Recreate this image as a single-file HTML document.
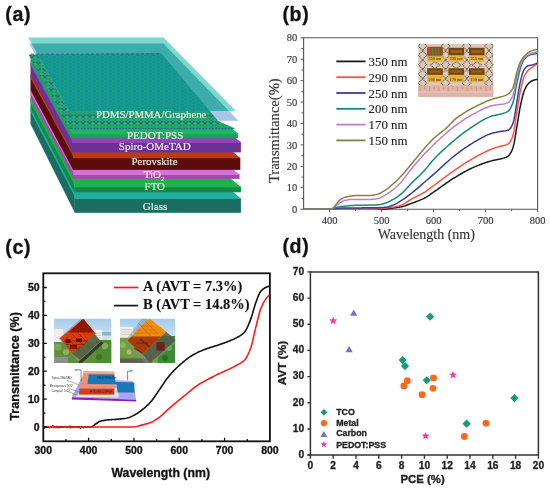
<!DOCTYPE html><html><head><meta charset="utf-8"><style>
html,body{margin:0;padding:0;background:#fff;width:550px;height:490px;overflow:hidden}
svg{display:block;filter:blur(0.3px)}
.ser{font-family:"Liberation Serif", serif}.san{font-family:"Liberation Sans", sans-serif}
</style></head><body>
<svg width="550" height="490" viewBox="0 0 550 490">
<rect width="550" height="490" fill="#fff"/>
<text x="5.2" y="20.7" class="san" font-weight="bold" font-size="19.6" letter-spacing="0.7" fill="#111" stroke="#111" stroke-width="0.3">(a)</text>
<text x="282.4" y="20.7" class="san" font-weight="bold" font-size="19.6" letter-spacing="0.7" fill="#111" stroke="#111" stroke-width="0.3">(b)</text>
<text x="5.2" y="254.2" class="san" font-weight="bold" font-size="19.6" letter-spacing="0.7" fill="#111" stroke="#111" stroke-width="0.3">(c)</text>
<text x="282.4" y="252.9" class="san" font-weight="bold" font-size="19.6" letter-spacing="0.7" fill="#111" stroke="#111" stroke-width="0.3">(d)</text>
<defs>
<pattern id="hexE" patternUnits="userSpaceOnUse" width="6.4" height="6.6" x="0" y="0.5"><rect width="6.4" height="6.6" fill="#1fb85a"/><path d="M0,0.8 L1.6,2.5 L4.8,2.5 L6.4,0.8 M1.6,2.5 L0,4.1 M4.8,2.5 L6.4,4.1 M0,4.1 L1.6,5.8 M4.8,5.8 L6.4,4.1 M1.6,5.8 H4.8" fill="none" stroke="#2a8a6a" stroke-width="0.5"/><circle cx="1.6" cy="2.5" r="0.95" fill="#3446c2"/><circle cx="4.8" cy="2.5" r="0.95" fill="#3446c2"/><circle cx="0" cy="4.1" r="0.95" fill="#3446c2"/><circle cx="6.4" cy="4.1" r="0.95" fill="#3446c2"/><circle cx="1.6" cy="5.8" r="0.6" fill="#2c55b0"/><circle cx="4.8" cy="5.8" r="0.6" fill="#2c55b0"/><circle cx="0" cy="0.8" r="0.6" fill="#2c55b0"/><circle cx="6.4" cy="0.8" r="0.6" fill="#2c55b0"/></pattern>
<pattern id="hexC" patternUnits="userSpaceOnUse" width="8" height="3.4" x="0" y="0"><rect width="8" height="3.4" fill="#139d8b"/><path d="M0,0.9 H3.2 M4.5,2.6 H8" stroke="#1a86a6" stroke-width="1.1"/><path d="M3.5,0.9 H4.3 M0,2.6 H1" stroke="#12a878" stroke-width="1.1"/></pattern>
<clipPath id="cpPDMS"><polygon points="28.30,37.60 163.60,37.60 236.00,111.00 69.00,111.00"/></clipPath>
</defs>
<polygon points="30.50,107.50 74.80,191.70 74.80,212.80 30.50,124.00" fill="#1b6d62"/>
<polygon points="30.50,108.10 74.80,192.30 74.80,196.71 30.50,111.52" fill="#22ae9e"/>
<rect x="74.50" y="198.20" width="166.40" height="14.60" fill="#1b6d62"/>
<polygon points="74.50,191.60 232.64,191.60 240.90,198.60 240.90,198.90 74.50,198.90" fill="#22ae9e"/>
<polygon points="30.50,97.70 74.40,178.30 74.40,192.30 30.50,108.10" fill="#118a47"/>
<polygon points="30.50,98.30 74.40,178.90 74.40,184.57 30.50,102.45" fill="#1db24c"/>
<rect x="74.10" y="186.60" width="166.80" height="5.70" fill="#118a47"/>
<polygon points="74.10,178.20 230.48,178.20 240.90,187.00 240.90,187.30 74.10,187.30" fill="#1db24c"/>
<polygon points="30.50,89.50 73.90,169.30 73.90,178.90 30.50,98.30" fill="#a14ca8"/>
<polygon points="30.50,90.10 73.90,169.90 73.90,173.33 30.50,93.23" fill="#d372d2"/>
<rect x="73.60" y="174.40" width="166.00" height="4.50" fill="#a14ca8"/>
<polygon points="73.60,169.20 233.02,169.20 239.60,174.80 239.60,175.10 73.60,175.10" fill="#d372d2"/>
<polygon points="30.50,73.90 73.20,151.80 73.20,169.90 30.50,90.10" fill="#5c0d09"/>
<polygon points="30.50,74.50 73.20,152.40 73.20,156.25 30.50,77.93" fill="#b93c17"/>
<rect x="72.90" y="157.50" width="167.40" height="12.40" fill="#5c0d09"/>
<polygon points="72.90,151.70 233.00,151.70 240.30,157.90 240.30,158.20 72.90,158.20" fill="#b93c17"/>
<polygon points="30.50,62.50 72.20,137.70 72.20,152.40 30.50,74.50" fill="#6b3196"/>
<polygon points="30.50,63.10 72.20,138.30 72.20,141.24 30.50,65.48" fill="#9443bb"/>
<rect x="71.90" y="142.10" width="169.00" height="10.30" fill="#6b3196"/>
<polygon points="71.90,137.60 235.16,137.60 240.90,142.50 240.90,142.80 71.90,142.80" fill="#9443bb"/>
<polygon points="30.50,54.00 71.00,128.40 71.00,138.30 30.50,63.10" fill="#18a458"/>
<polygon points="30.50,54.60 71.00,129.00 71.00,132.15 30.50,57.48" fill="#22b462"/>
<rect x="70.70" y="133.10" width="167.30" height="5.20" fill="#18a458"/>
<polygon points="70.70,128.30 231.90,128.30 238.00,133.50 238.00,133.80 70.70,133.80" fill="#22b462"/>
<polygon points="29.20,43.50 163.40,43.50 238.40,120.80 71.00,120.80" fill="#a9c5e7"/>
<polygon points="28.60,54.50 161.00,53.00 209.50,110.50 218.00,121.00 233.00,127.50 235.50,129.20 69.50,129.20" fill="url(#hexE)"/>
<polygon points="28.30,37.60 163.60,37.60 236.00,111.00 69.00,111.00" fill="#7fd7cf"/>
<g clip-path="url(#cpPDMS)">
<polygon points="29.20,43.50 163.40,43.50 238.40,120.80 71.00,120.80" fill="#3cadab"/>
<polygon points="28.60,54.50 161.00,53.00 209.50,110.50 218.00,121.00 233.00,127.50 235.50,129.20 69.50,129.20" fill="url(#hexC)"/>
</g>
<path d="M31,54.2H161" stroke="#3a5fa8" stroke-width="1.2" stroke-dasharray="3,2" opacity="0.8"/>
<text x="96.0" y="117.8" font-family="Liberation Serif, serif" font-size="10.8" fill="#f3f1e6" stroke="#f3f1e6" stroke-width="0.15">PDMS/PMMA/Graphene</text>
<text x="127.0" y="138.7" font-family="Liberation Serif, serif" font-size="11.0" fill="#f3f1e6" stroke="#f3f1e6" stroke-width="0.15">PEDOT:PSS</text>
<text x="118.8" y="150.3" font-family="Liberation Serif, serif" font-size="11.0" fill="#f3f1e6" stroke="#f3f1e6" stroke-width="0.15">Spiro-OMeTAD</text>
<text x="131.5" y="165.1" font-family="Liberation Serif, serif" font-size="10.9" fill="#f3f1e6" stroke="#f3f1e6" stroke-width="0.15">Perovskite</text>
<text x="144.6" y="190.3" font-family="Liberation Serif, serif" font-size="10.9" fill="#f3f1e6" stroke="#f3f1e6" stroke-width="0.15">FTO</text>
<text x="142.8" y="209.6" font-family="Liberation Serif, serif" font-size="11.0" fill="#f3f1e6" stroke="#f3f1e6" stroke-width="0.15">Glass</text>
<text x="143.8" y="178.0" font-family="Liberation Serif, serif" font-size="10.9" fill="#f3f1e6" stroke="#f3f1e6" stroke-width="0.15">TiO<tspan font-size="6" dy="2.5">2</tspan></text>
<defs><clipPath id="insb"><rect x="418.2" y="43.7" width="75.3" height="53.2"/></clipPath></defs>
<g clip-path="url(#insb)">
<rect x="418.2" y="43.7" width="75.3" height="53.2" fill="#dccbbd"/>
<path d="M422.6,41.4l4.1,4.6l-4.1,4.6l-4.1,-4.6zM422.6,50.7l4.1,4.6l-4.1,4.6l-4.1,-4.6zM422.6,60.0l4.1,4.6l-4.1,4.6l-4.1,-4.6zM422.6,69.3l4.1,4.6l-4.1,4.6l-4.1,-4.6zM422.6,78.6l4.1,4.6l-4.1,4.6l-4.1,-4.6zM445.6,41.4l4.1,4.6l-4.1,4.6l-4.1,-4.6zM445.6,50.7l4.1,4.6l-4.1,4.6l-4.1,-4.6zM445.6,60.0l4.1,4.6l-4.1,4.6l-4.1,-4.6zM445.6,69.3l4.1,4.6l-4.1,4.6l-4.1,-4.6zM445.6,78.6l4.1,4.6l-4.1,4.6l-4.1,-4.6zM466.7,41.4l4.1,4.6l-4.1,4.6l-4.1,-4.6zM466.7,50.7l4.1,4.6l-4.1,4.6l-4.1,-4.6zM466.7,60.0l4.1,4.6l-4.1,4.6l-4.1,-4.6zM466.7,69.3l4.1,4.6l-4.1,4.6l-4.1,-4.6zM466.7,78.6l4.1,4.6l-4.1,4.6l-4.1,-4.6zM489.0,41.4l4.1,4.6l-4.1,4.6l-4.1,-4.6zM489.0,50.7l4.1,4.6l-4.1,4.6l-4.1,-4.6zM489.0,60.0l4.1,4.6l-4.1,4.6l-4.1,-4.6zM489.0,69.3l4.1,4.6l-4.1,4.6l-4.1,-4.6zM489.0,78.6l4.1,4.6l-4.1,4.6l-4.1,-4.6zM434.9,61.4l4.6,3.6l-4.6,3.6l-4.6,-3.6zM456.2,61.4l4.6,3.6l-4.6,3.6l-4.6,-3.6zM476.7,61.4l4.6,3.6l-4.6,3.6l-4.6,-3.6z" fill="none" stroke="#6e5a4a" stroke-width="1.15" stroke-dasharray="1.1,0.7"/>
<rect x="427.2" y="47.8" width="15.5" height="13.9" fill="#e6b23e"/>
<rect x="427.2" y="47.8" width="15.5" height="7.4" fill="#754413"/>
<rect x="429.2" y="49.8" width="11.5" height="3.4" fill="#9a6426" opacity="0.8"/>
<text x="434.9" y="60.1" font-family="Liberation Serif, serif" font-size="4.2" fill="#3a2508" text-anchor="middle">350 nm</text>
<rect x="448.5" y="47.8" width="15.5" height="13.9" fill="#e6b23e"/>
<rect x="448.5" y="47.8" width="15.5" height="7.4" fill="#754413"/>
<rect x="450.5" y="49.8" width="11.5" height="3.4" fill="#9a6426" opacity="0.8"/>
<text x="456.2" y="60.1" font-family="Liberation Serif, serif" font-size="4.2" fill="#3a2508" text-anchor="middle">290 nm</text>
<rect x="469.0" y="47.8" width="15.5" height="13.9" fill="#e6b23e"/>
<rect x="469.0" y="47.8" width="15.5" height="7.4" fill="#754413"/>
<rect x="471.0" y="49.8" width="11.5" height="3.4" fill="#9a6426" opacity="0.8"/>
<text x="476.8" y="60.1" font-family="Liberation Serif, serif" font-size="4.2" fill="#3a2508" text-anchor="middle">250 nm</text>
<rect x="427.2" y="68.3" width="15.5" height="13.9" fill="#e6b23e"/>
<rect x="427.2" y="68.3" width="15.5" height="6.5" fill="#754413"/>
<rect x="429.2" y="70.3" width="11.5" height="2.5" fill="#9a6426" opacity="0.8"/>
<text x="434.9" y="80.6" font-family="Liberation Serif, serif" font-size="4.2" fill="#3a2508" text-anchor="middle">200 nm</text>
<rect x="448.5" y="68.3" width="15.5" height="13.9" fill="#e6b23e"/>
<rect x="448.5" y="68.3" width="15.5" height="6.5" fill="#754413"/>
<rect x="450.5" y="70.3" width="11.5" height="2.5" fill="#9a6426" opacity="0.8"/>
<text x="456.2" y="80.6" font-family="Liberation Serif, serif" font-size="4.2" fill="#3a2508" text-anchor="middle">170 nm</text>
<rect x="469.0" y="68.3" width="15.5" height="13.9" fill="#e6b23e"/>
<rect x="469.0" y="68.3" width="15.5" height="6.5" fill="#754413"/>
<rect x="471.0" y="70.3" width="11.5" height="2.5" fill="#9a6426" opacity="0.8"/>
<text x="476.8" y="80.6" font-family="Liberation Serif, serif" font-size="4.2" fill="#3a2508" text-anchor="middle">150 nm</text>
<rect x="427.6" y="46.8" width="14.6" height="9" fill="#b83a2a"/>
<path d="M429.5,48v7M432.5,48v7M435.5,48v7M438.5,48v7" stroke="#2a9a3a" stroke-width="1.3"/>
<path d="M427.8,55.8h14.4" stroke="#3aa83a" stroke-width="0.8"/>
<rect x="418.2" y="85.5" width="75.3" height="11.4" fill="#dfb3a6"/>
<path d="M420.0,86.5v5.0M424.7,86.5v3.0M429.4,86.5v5.0M434.1,86.5v3.0M438.8,86.5v5.0M443.5,86.5v3.0M448.2,86.5v5.0M452.9,86.5v3.0M457.6,86.5v5.0M462.3,86.5v3.0M467.0,86.5v5.0M471.7,86.5v3.0M476.4,86.5v5.0M481.1,86.5v3.0M485.8,86.5v5.0M490.5,86.5v3.0" stroke="#c49080" stroke-width="0.7"/>
<rect x="418.2" y="91.5" width="75.3" height="1.0" fill="#eccac2"/>
</g>
<path d="M303.6,209.2V37.8H537.6V209.2" fill="none" stroke="#555" stroke-width="1.1"/>
<path d="M303.6,209.2H537.6" fill="none" stroke="#555" stroke-width="1.1"/>
<path d="M303.60,209.20L304.78,209.20L305.95,209.20L307.13,209.20L308.30,209.20L309.48,209.20L310.66,209.20L311.83,209.20L313.01,209.20L314.18,209.20L315.36,209.20L316.53,209.20L317.71,209.20L318.89,209.20L320.06,209.20L321.24,209.20L322.41,209.20L323.59,209.20L324.77,209.20L325.94,209.20L327.12,209.20L328.29,209.20L329.47,209.20L330.65,209.20L331.82,209.20L333.00,209.20L334.17,209.20L335.35,209.20L336.52,209.20L337.70,209.20L338.88,209.20L340.05,209.20L341.23,209.20L342.40,209.20L343.58,209.20L344.76,209.20L345.93,209.20L347.11,209.20L348.28,209.20L349.46,209.20L350.64,209.20L351.81,209.20L352.99,209.20L354.16,209.20L355.34,209.20L356.51,209.20L357.69,209.20L358.87,209.20L360.04,209.20L361.22,209.20L362.39,209.20L363.57,209.20L364.75,209.20L365.92,209.20L367.10,209.20L368.27,209.20L369.45,209.20L370.63,209.20L371.80,209.20L372.98,209.20L374.15,209.20L375.33,209.20L376.50,209.20L377.68,209.20L378.86,209.20L380.03,209.20L381.21,209.20L382.38,209.19L383.56,209.14L384.74,209.06L385.91,208.95L387.09,208.81L388.26,208.66L389.44,208.49L390.62,208.32L391.79,208.16L392.97,207.99L394.14,207.84L395.32,207.69L396.49,207.53L397.67,207.37L398.85,207.19L400.02,206.99L401.20,206.77L402.37,206.52L403.55,206.21L404.73,205.85L405.90,205.44L407.08,205.01L408.25,204.57L409.43,204.13L410.61,203.70L411.78,203.27L412.96,202.85L414.13,202.43L415.31,202.00L416.48,201.56L417.66,201.11L418.84,200.65L420.01,200.17L421.19,199.66L422.36,199.14L423.54,198.58L424.72,198.00L425.89,197.37L427.07,196.65L428.24,195.87L429.42,195.05L430.59,194.20L431.77,193.35L432.95,192.51L434.12,191.70L435.30,190.90L436.47,190.08L437.65,189.26L438.83,188.43L440.00,187.60L441.18,186.76L442.35,185.93L443.53,185.10L444.71,184.27L445.88,183.44L447.06,182.63L448.23,181.82L449.41,181.03L450.58,180.24L451.76,179.47L452.94,178.72L454.11,177.98L455.29,177.27L456.46,176.56L457.64,175.85L458.82,175.15L459.99,174.45L461.17,173.76L462.34,173.08L463.52,172.41L464.70,171.76L465.87,171.11L467.05,170.48L468.22,169.87L469.40,169.28L470.57,168.70L471.75,168.15L472.93,167.62L474.10,167.11L475.28,166.61L476.45,166.12L477.63,165.63L478.81,165.16L479.98,164.70L481.16,164.25L482.33,163.81L483.51,163.38L484.69,162.97L485.86,162.57L487.04,162.19L488.21,161.82L489.39,161.46L490.56,161.13L491.74,160.81L492.92,160.51L494.09,160.25L495.27,160.02L496.44,159.79L497.62,159.56L498.80,159.31L499.97,159.04L501.15,158.73L502.32,158.42L503.50,158.11L504.68,157.76L505.85,157.33L507.03,156.80L508.20,156.12L509.38,154.95L510.55,153.19L511.73,150.87L512.91,148.04L514.08,143.41L515.26,136.57L516.43,129.33L517.61,122.28L518.79,114.81L519.96,107.98L521.14,102.33L522.31,97.21L523.49,92.97L524.67,89.84L525.84,87.25L527.02,85.21L528.19,83.77L529.37,82.62L530.54,81.67L531.72,80.95L532.90,80.46L534.07,80.05L535.25,79.69L536.42,79.45L537.60,79.36" fill="none" stroke="#1a1a1a" stroke-width="1.5" stroke-linejoin="round"/>
<path d="M303.60,209.20L304.78,209.20L305.95,209.20L307.13,209.20L308.30,209.20L309.48,209.20L310.66,209.20L311.83,209.20L313.01,209.20L314.18,209.20L315.36,209.20L316.53,209.20L317.71,209.20L318.89,209.20L320.06,209.20L321.24,209.20L322.41,209.20L323.59,209.20L324.77,209.20L325.94,209.20L327.12,209.20L328.29,209.20L329.47,209.20L330.65,209.20L331.82,209.20L333.00,209.20L334.17,209.20L335.35,209.20L336.52,209.20L337.70,209.20L338.88,209.20L340.05,209.20L341.23,209.20L342.40,209.20L343.58,209.20L344.76,209.20L345.93,209.20L347.11,209.20L348.28,209.20L349.46,209.20L350.64,209.20L351.81,209.20L352.99,209.20L354.16,209.20L355.34,209.20L356.51,209.20L357.69,209.20L358.87,209.20L360.04,209.20L361.22,209.20L362.39,209.20L363.57,209.20L364.75,209.20L365.92,209.20L367.10,209.20L368.27,209.20L369.45,209.20L370.63,209.20L371.80,209.20L372.98,209.17L374.15,209.13L375.33,209.06L376.50,208.98L377.68,208.88L378.86,208.78L380.03,208.66L381.21,208.54L382.38,208.42L383.56,208.30L384.74,208.18L385.91,208.06L387.09,207.94L388.26,207.81L389.44,207.66L390.62,207.51L391.79,207.34L392.97,207.16L394.14,206.95L395.32,206.73L396.49,206.48L397.67,206.20L398.85,205.89L400.02,205.54L401.20,205.16L402.37,204.72L403.55,204.14L404.73,203.44L405.90,202.66L407.08,201.84L408.25,201.02L409.43,200.24L410.61,199.54L411.78,198.89L412.96,198.26L414.13,197.65L415.31,197.05L416.48,196.46L417.66,195.87L418.84,195.28L420.01,194.67L421.19,194.05L422.36,193.41L423.54,192.74L424.72,192.03L425.89,191.29L427.07,190.48L428.24,189.64L429.42,188.77L430.59,187.88L431.77,186.99L432.95,186.11L434.12,185.25L435.30,184.39L436.47,183.52L437.65,182.64L438.83,181.76L440.00,180.88L441.18,180.00L442.35,179.12L443.53,178.23L444.71,177.36L445.88,176.48L447.06,175.61L448.23,174.74L449.41,173.88L450.58,173.03L451.76,172.19L452.94,171.36L454.11,170.55L455.29,169.74L456.46,168.94L457.64,168.14L458.82,167.35L459.99,166.56L461.17,165.78L462.34,165.00L463.52,164.23L464.70,163.47L465.87,162.72L467.05,161.98L468.22,161.25L469.40,160.53L470.57,159.83L471.75,159.14L472.93,158.46L474.10,157.80L475.28,157.15L476.45,156.49L477.63,155.84L478.81,155.20L479.98,154.56L481.16,153.93L482.33,153.32L483.51,152.72L484.69,152.13L485.86,151.56L487.04,151.01L488.21,150.48L489.39,149.98L490.56,149.49L491.74,149.03L492.92,148.60L494.09,148.20L495.27,147.83L496.44,147.47L497.62,147.12L498.80,146.77L499.97,146.42L501.15,146.08L502.32,145.78L503.50,145.52L504.68,145.25L505.85,144.93L507.03,144.50L508.20,143.93L509.38,142.83L510.55,141.08L511.73,138.73L512.91,135.83L514.08,130.65L515.26,122.75L516.43,114.62L517.61,107.29L518.79,99.87L519.96,93.17L521.14,87.56L522.31,82.43L523.49,78.29L524.67,75.49L525.84,73.32L527.02,71.62L528.19,70.31L529.37,69.29L530.54,68.44L531.72,67.64L532.90,66.79L534.07,65.94L535.25,65.11L536.42,64.30L537.60,63.51" fill="none" stroke="#ff5040" stroke-width="1.5" stroke-linejoin="round"/>
<path d="M303.60,209.20L304.78,209.20L305.95,209.20L307.13,209.20L308.30,209.20L309.48,209.20L310.66,209.20L311.83,209.20L313.01,209.20L314.18,209.20L315.36,209.20L316.53,209.20L317.71,209.20L318.89,209.20L320.06,209.20L321.24,209.20L322.41,209.20L323.59,209.20L324.77,209.20L325.94,209.20L327.12,209.20L328.29,209.20L329.47,209.20L330.65,209.17L331.82,209.08L333.00,208.95L334.17,208.79L335.35,208.62L336.52,208.45L337.70,208.30L338.88,208.19L340.05,208.13L341.23,208.10L342.40,208.07L343.58,208.05L344.76,208.03L345.93,208.01L347.11,208.00L348.28,207.98L349.46,207.97L350.64,207.96L351.81,207.95L352.99,207.94L354.16,207.93L355.34,207.92L356.51,207.91L357.69,207.90L358.87,207.90L360.04,207.89L361.22,207.88L362.39,207.87L363.57,207.87L364.75,207.86L365.92,207.85L367.10,207.84L368.27,207.83L369.45,207.81L370.63,207.80L371.80,207.78L372.98,207.76L374.15,207.74L375.33,207.72L376.50,207.70L377.68,207.67L378.86,207.63L380.03,207.59L381.21,207.54L382.38,207.47L383.56,207.40L384.74,207.31L385.91,207.20L387.09,207.00L388.26,206.73L389.44,206.39L390.62,206.00L391.79,205.58L392.97,205.14L394.14,204.68L395.32,204.15L396.49,203.53L397.67,202.85L398.85,202.14L400.02,201.39L401.20,200.64L402.37,199.88L403.55,199.10L404.73,198.29L405.90,197.44L407.08,196.58L408.25,195.69L409.43,194.79L410.61,193.89L411.78,192.97L412.96,192.02L414.13,191.07L415.31,190.09L416.48,189.11L417.66,188.11L418.84,187.10L420.01,186.09L421.19,185.08L422.36,184.06L423.54,183.05L424.72,182.04L425.89,181.03L427.07,180.01L428.24,178.98L429.42,177.95L430.59,176.92L431.77,175.89L432.95,174.85L434.12,173.82L435.30,172.77L436.47,171.71L437.65,170.64L438.83,169.57L440.00,168.49L441.18,167.41L442.35,166.33L443.53,165.25L444.71,164.17L445.88,163.11L447.06,162.05L448.23,161.01L449.41,159.98L450.58,158.97L451.76,157.97L452.94,157.00L454.11,156.06L455.29,155.14L456.46,154.23L457.64,153.33L458.82,152.44L459.99,151.56L461.17,150.69L462.34,149.83L463.52,148.99L464.70,148.16L465.87,147.35L467.05,146.55L468.22,145.77L469.40,145.00L470.57,144.26L471.75,143.54L472.93,142.83L474.10,142.15L475.28,141.46L476.45,140.77L477.63,140.08L478.81,139.40L479.98,138.73L481.16,138.08L482.33,137.44L483.51,136.82L484.69,136.23L485.86,135.66L487.04,135.13L488.21,134.63L489.39,134.17L490.56,133.75L491.74,133.38L492.92,133.06L494.09,132.76L495.27,132.48L496.44,132.23L497.62,131.99L498.80,131.76L499.97,131.55L501.15,131.35L502.32,131.20L503.50,131.07L504.68,130.95L505.85,130.80L507.03,130.58L508.20,130.27L509.38,129.46L510.55,128.02L511.73,126.04L512.91,123.60L514.08,119.18L515.26,112.26L516.43,104.91L517.61,97.74L518.79,90.10L519.96,83.41L521.14,78.37L522.31,73.96L523.49,70.64L524.67,68.70L525.84,67.25L527.02,66.23L528.19,65.70L529.37,65.40L530.54,65.19L531.72,64.96L532.90,64.65L534.07,64.27L535.25,63.84L536.42,63.37L537.60,62.87" fill="none" stroke="#34409e" stroke-width="1.5" stroke-linejoin="round"/>
<path d="M303.60,209.20L304.78,209.20L305.95,209.20L307.13,209.20L308.30,209.20L309.48,209.20L310.66,209.20L311.83,209.20L313.01,209.20L314.18,209.20L315.36,209.20L316.53,209.20L317.71,209.20L318.89,209.20L320.06,209.20L321.24,209.20L322.41,209.20L323.59,209.20L324.77,209.20L325.94,209.20L327.12,209.20L328.29,209.20L329.47,209.20L330.65,209.20L331.82,209.14L333.00,208.80L334.17,208.31L335.35,207.80L336.52,207.45L337.70,207.20L338.88,206.97L340.05,206.76L341.23,206.57L342.40,206.41L343.58,206.26L344.76,206.14L345.93,206.02L347.11,205.91L348.28,205.80L349.46,205.70L350.64,205.61L351.81,205.53L352.99,205.46L354.16,205.40L355.34,205.35L356.51,205.31L357.69,205.28L358.87,205.25L360.04,205.23L361.22,205.21L362.39,205.19L363.57,205.18L364.75,205.16L365.92,205.15L367.10,205.14L368.27,205.12L369.45,205.10L370.63,205.08L371.80,205.06L372.98,205.03L374.15,205.00L375.33,204.96L376.50,204.91L377.68,204.82L378.86,204.68L380.03,204.48L381.21,204.24L382.38,203.96L383.56,203.66L384.74,203.34L385.91,203.00L387.09,202.56L388.26,202.04L389.44,201.45L390.62,200.82L391.79,200.15L392.97,199.47L394.14,198.79L395.32,198.08L396.49,197.33L397.67,196.55L398.85,195.72L400.02,194.84L401.20,193.91L402.37,192.92L403.55,191.81L404.73,190.59L405.90,189.31L407.08,187.98L408.25,186.66L409.43,185.37L410.61,184.15L411.78,182.96L412.96,181.80L414.13,180.65L415.31,179.51L416.48,178.38L417.66,177.25L418.84,176.11L420.01,174.96L421.19,173.79L422.36,172.59L423.54,171.37L424.72,170.11L425.89,168.79L427.07,167.39L428.24,165.94L429.42,164.46L430.59,162.99L431.77,161.56L432.95,160.21L434.12,158.94L435.30,157.71L436.47,156.50L437.65,155.32L438.83,154.15L440.00,153.00L441.18,151.87L442.35,150.76L443.53,149.67L444.71,148.59L445.88,147.52L447.06,146.48L448.23,145.44L449.41,144.42L450.58,143.41L451.76,142.41L452.94,141.43L454.11,140.45L455.29,139.48L456.46,138.52L457.64,137.57L458.82,136.62L459.99,135.69L461.17,134.77L462.34,133.86L463.52,132.96L464.70,132.07L465.87,131.20L467.05,130.35L468.22,129.52L469.40,128.70L470.57,127.90L471.75,127.12L472.93,126.36L474.10,125.61L475.28,124.86L476.45,124.11L477.63,123.35L478.81,122.61L479.98,121.86L481.16,121.14L482.33,120.43L483.51,119.75L484.69,119.09L485.86,118.47L487.04,117.89L488.21,117.35L489.39,116.86L490.56,116.42L491.74,116.03L492.92,115.71L494.09,115.44L495.27,115.20L496.44,114.99L497.62,114.77L498.80,114.53L499.97,114.26L501.15,113.94L502.32,113.62L503.50,113.28L504.68,112.89L505.85,112.42L507.03,111.85L508.20,111.11L509.38,109.88L510.55,108.05L511.73,105.67L512.91,102.84L514.08,98.36L515.26,92.02L516.43,85.68L517.61,80.07L518.79,74.51L519.96,69.73L521.14,66.06L522.31,62.89L523.49,60.42L524.67,58.75L525.84,57.44L527.02,56.45L528.19,55.76L529.37,55.22L530.54,54.78L531.72,54.44L532.90,54.21L534.07,54.00L535.25,53.82L536.42,53.70L537.60,53.65" fill="none" stroke="#128a78" stroke-width="1.5" stroke-linejoin="round"/>
<path d="M303.60,209.20L304.78,209.20L305.95,209.20L307.13,209.20L308.30,209.20L309.48,209.20L310.66,209.20L311.83,209.20L313.01,209.20L314.18,209.20L315.36,209.20L316.53,209.20L317.71,209.20L318.89,209.20L320.06,209.20L321.24,209.20L322.41,209.20L323.59,209.20L324.77,209.20L325.94,209.20L327.12,209.20L328.29,209.20L329.47,209.20L330.65,209.20L331.82,209.09L333.00,208.44L334.17,207.44L335.35,206.35L336.52,205.45L337.70,204.61L338.88,203.73L340.05,202.85L341.23,202.04L342.40,201.34L343.58,200.81L344.76,200.47L345.93,200.18L347.11,199.92L348.28,199.72L349.46,199.59L350.64,199.56L351.81,199.56L352.99,199.56L354.16,199.56L355.34,199.56L356.51,199.56L357.69,199.56L358.87,199.56L360.04,199.56L361.22,199.56L362.39,199.56L363.57,199.56L364.75,199.56L365.92,199.56L367.10,199.55L368.27,199.52L369.45,199.47L370.63,199.40L371.80,199.32L372.98,199.22L374.15,199.10L375.33,198.97L376.50,198.82L377.68,198.67L378.86,198.37L380.03,197.93L381.21,197.36L382.38,196.72L383.56,196.03L384.74,195.35L385.91,194.68L387.09,193.97L388.26,193.21L389.44,192.41L390.62,191.56L391.79,190.67L392.97,189.75L394.14,188.79L395.32,187.77L396.49,186.70L397.67,185.56L398.85,184.38L400.02,183.15L401.20,181.89L402.37,180.57L403.55,179.15L404.73,177.65L405.90,176.08L407.08,174.49L408.25,172.92L409.43,171.38L410.61,169.93L411.78,168.49L412.96,167.07L414.13,165.66L415.31,164.26L416.48,162.87L417.66,161.50L418.84,160.14L420.01,158.80L421.19,157.47L422.36,156.16L423.54,154.87L424.72,153.61L425.89,152.36L427.07,151.14L428.24,149.93L429.42,148.75L430.59,147.59L431.77,146.45L432.95,145.33L434.12,144.22L435.30,143.11L436.47,142.01L437.65,140.91L438.83,139.82L440.00,138.73L441.18,137.65L442.35,136.58L443.53,135.52L444.71,134.47L445.88,133.43L447.06,132.41L448.23,131.41L449.41,130.42L450.58,129.45L451.76,128.51L452.94,127.58L454.11,126.68L455.29,125.80L456.46,124.93L457.64,124.08L458.82,123.24L459.99,122.41L461.17,121.59L462.34,120.79L463.52,120.00L464.70,119.23L465.87,118.48L467.05,117.74L468.22,117.02L469.40,116.31L470.57,115.63L471.75,114.96L472.93,114.32L474.10,113.69L475.28,113.06L476.45,112.43L477.63,111.80L478.81,111.18L479.98,110.57L481.16,109.98L482.33,109.40L483.51,108.84L484.69,108.30L485.86,107.79L487.04,107.31L488.21,106.86L489.39,106.45L490.56,106.08L491.74,105.74L492.92,105.46L494.09,105.23L495.27,105.03L496.44,104.87L497.62,104.72L498.80,104.59L499.97,104.45L501.15,104.31L502.32,104.14L503.50,103.94L504.68,103.70L505.85,103.40L507.03,103.05L508.20,102.61L509.38,101.67L510.55,100.12L511.73,98.04L512.91,95.54L514.08,91.19L515.26,84.81L516.43,78.74L517.61,74.03L518.79,69.68L519.96,66.05L521.14,63.25L522.31,60.88L523.49,58.99L524.67,57.60L525.84,56.50L527.02,55.61L528.19,54.87L529.37,54.23L530.54,53.68L531.72,53.23L532.90,52.87L534.07,52.56L535.25,52.28L536.42,52.07L537.60,51.94" fill="none" stroke="#c07ccf" stroke-width="1.5" stroke-linejoin="round"/>
<path d="M303.60,209.20L304.78,209.20L305.95,209.20L307.13,209.20L308.30,209.20L309.48,209.20L310.66,209.20L311.83,209.20L313.01,209.20L314.18,209.20L315.36,209.20L316.53,209.20L317.71,209.20L318.89,209.20L320.06,209.20L321.24,209.20L322.41,209.20L323.59,209.20L324.77,209.20L325.94,209.20L327.12,209.20L328.29,209.20L329.47,209.20L330.65,209.20L331.82,208.87L333.00,208.09L334.17,207.09L335.35,205.47L336.52,203.86L337.70,202.43L338.88,201.04L340.05,199.86L341.23,199.02L342.40,198.40L343.58,197.85L344.76,197.38L345.93,197.00L347.11,196.70L348.28,196.48L349.46,196.28L350.64,196.09L351.81,195.93L352.99,195.78L354.16,195.66L355.34,195.57L356.51,195.51L357.69,195.49L358.87,195.49L360.04,195.49L361.22,195.49L362.39,195.49L363.57,195.49L364.75,195.49L365.92,195.49L367.10,195.49L368.27,195.49L369.45,195.49L370.63,195.43L371.80,195.31L372.98,195.15L374.15,194.93L375.33,194.69L376.50,194.42L377.68,194.14L378.86,193.75L380.03,193.24L381.21,192.62L382.38,191.93L383.56,191.20L384.74,190.45L385.91,189.70L387.09,188.87L388.26,187.98L389.44,187.04L390.62,186.05L391.79,185.04L392.97,184.01L394.14,182.97L395.32,181.91L396.49,180.80L397.67,179.67L398.85,178.50L400.02,177.30L401.20,176.07L402.37,174.81L403.55,173.49L404.73,172.12L405.90,170.71L407.08,169.28L408.25,167.85L409.43,166.42L410.61,165.01L411.78,163.60L412.96,162.17L414.13,160.74L415.31,159.30L416.48,157.86L417.66,156.42L418.84,154.99L420.01,153.57L421.19,152.16L422.36,150.77L423.54,149.40L424.72,148.05L425.89,146.73L427.07,145.40L428.24,144.08L429.42,142.79L430.59,141.52L431.77,140.30L432.95,139.12L434.12,138.01L435.30,136.96L436.47,135.96L437.65,135.01L438.83,134.08L440.00,133.16L441.18,132.26L442.35,131.35L443.53,130.42L444.71,129.46L445.88,128.46L447.06,127.41L448.23,126.28L449.41,125.04L450.58,123.76L451.76,122.48L452.94,121.25L454.11,120.12L455.29,119.13L456.46,118.21L457.64,117.32L458.82,116.46L459.99,115.63L461.17,114.82L462.34,114.04L463.52,113.29L464.70,112.55L465.87,111.84L467.05,111.15L468.22,110.47L469.40,109.81L470.57,109.16L471.75,108.52L472.93,107.89L474.10,107.26L475.28,106.65L476.45,106.06L477.63,105.47L478.81,104.89L479.98,104.33L481.16,103.77L482.33,103.23L483.51,102.70L484.69,102.18L485.86,101.68L487.04,101.18L488.21,100.70L489.39,100.23L490.56,99.77L491.74,99.33L492.92,98.91L494.09,98.55L495.27,98.22L496.44,97.93L497.62,97.65L498.80,97.37L499.97,97.09L501.15,96.79L502.32,96.47L503.50,96.10L504.68,95.68L505.85,95.20L507.03,94.65L508.20,94.00L509.38,93.08L510.55,91.79L511.73,90.11L512.91,88.02L514.08,84.32L515.26,78.88L516.43,73.71L517.61,69.70L518.79,66.01L519.96,62.92L521.14,60.58L522.31,58.64L523.49,57.02L524.67,55.67L525.84,54.50L527.02,53.51L528.19,52.71L529.37,52.02L530.54,51.43L531.72,50.92L532.90,50.47L534.07,50.07L535.25,49.71L536.42,49.40L537.60,49.16" fill="none" stroke="#8a7f3c" stroke-width="1.5" stroke-linejoin="round"/>
<path d="M300.6,209.20h3.0M301.6,198.49h2.0M300.6,187.77h3.0M301.6,177.06h2.0M300.6,166.35h3.0M301.6,155.64h2.0M300.6,144.93h3.0M301.6,134.21h2.0M300.6,123.50h3.0M301.6,112.79h2.0M300.6,102.08h3.0M301.6,91.36h2.0M300.6,80.65h3.0M301.6,69.94h2.0M300.6,59.23h3.0M301.6,48.51h2.0M300.6,37.80h3.0M329.60,209.2v3.0M355.60,209.2v2.0M381.60,209.2v3.0M407.60,209.2v2.0M433.60,209.2v3.0M459.60,209.2v2.0M485.60,209.2v3.0M511.60,209.2v2.0M537.60,209.2v3.0" stroke="#555" stroke-width="1" fill="none"/>
<text x="297.2" y="212.80" class="ser" font-size="10.5" fill="#333" text-anchor="end" stroke="#333" stroke-width="0.12">0</text>
<text x="297.2" y="191.37" class="ser" font-size="10.5" fill="#333" text-anchor="end" stroke="#333" stroke-width="0.12">10</text>
<text x="297.2" y="169.95" class="ser" font-size="10.5" fill="#333" text-anchor="end" stroke="#333" stroke-width="0.12">20</text>
<text x="297.2" y="148.53" class="ser" font-size="10.5" fill="#333" text-anchor="end" stroke="#333" stroke-width="0.12">30</text>
<text x="297.2" y="127.10" class="ser" font-size="10.5" fill="#333" text-anchor="end" stroke="#333" stroke-width="0.12">40</text>
<text x="297.2" y="105.68" class="ser" font-size="10.5" fill="#333" text-anchor="end" stroke="#333" stroke-width="0.12">50</text>
<text x="297.2" y="84.25" class="ser" font-size="10.5" fill="#333" text-anchor="end" stroke="#333" stroke-width="0.12">60</text>
<text x="297.2" y="62.83" class="ser" font-size="10.5" fill="#333" text-anchor="end" stroke="#333" stroke-width="0.12">70</text>
<text x="297.2" y="41.40" class="ser" font-size="10.5" fill="#333" text-anchor="end" stroke="#333" stroke-width="0.12">80</text>
<text x="329.60" y="223.8" class="ser" font-size="10.5" fill="#333" text-anchor="middle" stroke="#333" stroke-width="0.12">400</text>
<text x="381.60" y="223.8" class="ser" font-size="10.5" fill="#333" text-anchor="middle" stroke="#333" stroke-width="0.12">500</text>
<text x="433.60" y="223.8" class="ser" font-size="10.5" fill="#333" text-anchor="middle" stroke="#333" stroke-width="0.12">600</text>
<text x="485.60" y="223.8" class="ser" font-size="10.5" fill="#333" text-anchor="middle" stroke="#333" stroke-width="0.12">700</text>
<text x="537.60" y="223.8" class="ser" font-size="10.5" fill="#333" text-anchor="middle" stroke="#333" stroke-width="0.12">800</text>
<text x="426.3" y="239.4" class="ser" font-size="14" fill="#333" text-anchor="middle" stroke="#333" stroke-width="0.12">Wavelength (nm)</text>
<text transform="translate(278.6,130.7) rotate(-90)" class="ser" font-size="14.6" fill="#333" text-anchor="middle" stroke="#333" stroke-width="0.12">Transmittance(%)</text>
<path d="M336.3,61.40H365.5" stroke="#1a1a1a" stroke-width="1.8"/>
<text x="368.6" y="66.00" class="ser" font-size="12.8" fill="#222" stroke="#222" stroke-width="0.12">350 nm</text>
<path d="M336.3,77.20H365.5" stroke="#ff5040" stroke-width="1.8"/>
<text x="368.6" y="81.80" class="ser" font-size="12.8" fill="#222" stroke="#222" stroke-width="0.12">290 nm</text>
<path d="M336.3,93.00H365.5" stroke="#34409e" stroke-width="1.8"/>
<text x="368.6" y="97.60" class="ser" font-size="12.8" fill="#222" stroke="#222" stroke-width="0.12">250 nm</text>
<path d="M336.3,108.80H365.5" stroke="#128a78" stroke-width="1.8"/>
<text x="368.6" y="113.40" class="ser" font-size="12.8" fill="#222" stroke="#222" stroke-width="0.12">200 nm</text>
<path d="M336.3,124.60H365.5" stroke="#c07ccf" stroke-width="1.8"/>
<text x="368.6" y="129.20" class="ser" font-size="12.8" fill="#222" stroke="#222" stroke-width="0.12">170 nm</text>
<path d="M336.3,140.40H365.5" stroke="#8a7f3c" stroke-width="1.8"/>
<text x="368.6" y="145.00" class="ser" font-size="12.8" fill="#222" stroke="#222" stroke-width="0.12">150 nm</text>
<defs><linearGradient id="sky1" x1="0" y1="0" x2="0" y2="1"><stop offset="0" stop-color="#a4cbe8"/><stop offset="0.5" stop-color="#d6e6f2"/><stop offset="1" stop-color="#eef3f6"/></linearGradient><filter id="soft" x="-5%" y="-5%" width="110%" height="110%"><feGaussianBlur stdDeviation="0.45"/></filter><clipPath id="ph1"><rect x="54.1" y="318.5" width="57.4" height="44.4"/></clipPath><clipPath id="ph2"><rect x="120.0" y="318.5" width="55.3" height="44.4"/></clipPath></defs>
<g clip-path="url(#ph1)" filter="url(#soft)">
<rect x="54.1" y="318.5" width="57.4" height="44.4" fill="url(#sky1)"/>
<rect x="54.1" y="329" width="9" height="15" fill="#eeeeea"/>
<rect x="90.5" y="330" width="12" height="13" fill="#f2f2ee"/>
<path d="M92,333h9M92,335.5h9M92,338h9M92,340.5h9" stroke="#b4b4b4" stroke-width="0.6"/>
<rect x="102" y="332" width="9.5" height="3.5" fill="#8cb8c8"/>
<rect x="54.1" y="342" width="57.4" height="21" fill="#5f8f3c"/>
<circle cx="58" cy="347" r="3.5" fill="#7aa850"/><circle cx="66" cy="352" r="3" fill="#8ab45a"/>
<rect x="96" y="340" width="15.5" height="23" fill="#4f8a34"/>
<circle cx="105" cy="346" r="3.2" fill="#7fb054"/><circle cx="99" cy="357" r="3" fill="#3e7428"/>
<rect x="54.1" y="357" width="14" height="6" fill="#8e8e8a"/>
<polygon points="80.70,318.80 101.60,341.40 78.50,362.20 58.80,338.50" fill="#8c8e88" opacity="0.55"/>
<polygon points="94.30,334.00 100.50,341.00 80.00,359.50 71.70,353.20" fill="#4e5e3a" opacity="0.85"/>
<polygon points="101.20,341.20 103.40,343.20 80.40,364.20 78.20,362.00" fill="#2a2a28" opacity="0.85"/>
<polygon points="83.20,318.80 95.60,333.60 72.20,353.60 59.80,338.20" fill="#d83a0a"/>
<polygon points="83.20,318.80 94.60,332.40 68.90,332.40" fill="#921404"/>
<path d="M64,341h24M66,344.5h19M69,348h11M66,337l15,15M72,334l12,12M78,333l9,9" stroke="#8a1404" stroke-width="0.7" opacity="0.8"/>
<rect x="65.5" y="339" width="5" height="4" fill="#5a0a04"/><rect x="76" y="338.5" width="6" height="3.5" fill="#5a0a04"/><rect x="70" y="345" width="7" height="4" fill="#6a0c04" opacity="0.8"/>
</g>
<g clip-path="url(#ph2)" filter="url(#soft)">
<rect x="120" y="318.5" width="55.3" height="44.4" fill="url(#sky1)"/>
<rect x="120" y="326.8" width="13" height="11" fill="#eeeeea"/>
<path d="M121,329.5h11M121,332h11M121,334.5h11" stroke="#b8b8b8" stroke-width="0.6"/>
<rect x="120" y="337.8" width="55.3" height="25" fill="#6e9e40"/>
<circle cx="123" cy="345" r="3" fill="#8ab458"/><circle cx="129" cy="352" r="2.5" fill="#c0b080"/>
<rect x="158" y="336" width="17.3" height="27" fill="#3f8a34"/>
<circle cx="169" cy="348" r="3" fill="#6aa850"/><circle cx="165" cy="358" r="3" fill="#2e6e26"/>
<rect x="120" y="358.5" width="32" height="4.4" fill="#5e5e5a"/>
<polygon points="143.40,316.50 178.50,341.00 148.00,366.00 125.60,340.40" fill="#8e8e88" opacity="0.5"/>
<polygon points="165.80,331.50 176.00,340.00 150.00,363.00 142.20,354.00" fill="#4a5440" opacity="0.75"/>
<polygon points="149.30,318.50 166.40,331.80 142.20,354.40 127.40,340.40" fill="#f08c10"/>
<polygon points="131.60,336.40 161.20,336.40 142.20,354.40 127.40,340.40" fill="#a63a0c"/>
<path d="M134,333h25M136,330h19M141,326h12M132,337h28M138,323l14,14M145,321l12,12" stroke="#c06006" stroke-width="0.6" opacity="0.8"/>
<path d="M136,343h12M134,348l8,5M140,339l10,8" stroke="#5c1a06" stroke-width="1.2" opacity="0.7"/>
<rect x="156.4" y="342.2" width="8.2" height="8.3" fill="#6e1816" opacity="0.85"/>
</g>
<polygon points="71.90,397.30 81.10,378.40 132.80,381.00 136.10,399.80" fill="#a9a7f1"/>
<polygon points="71.90,397.30 136.10,399.80 136.10,401.60 71.90,399.60" fill="#8a1cba"/>
<polygon points="76.50,394.30 118.40,394.30 118.40,397.40 75.80,397.00" fill="#dfe8d2"/>
<rect x="114.3" y="388.2" width="4.1" height="9.2" fill="#e2e2e2"/>
<polygon points="83.70,371.20 114.30,371.80 114.30,388.80 79.20,388.80" fill="#eb9272"/>
<polygon points="83.70,371.20 114.30,371.80 114.30,374.00 83.20,373.60" fill="#f3a98a"/>
<rect x="79.2" y="388.6" width="35.1" height="6.0" fill="#d83a1a"/>
<polygon points="88.60,374.20 114.30,374.60 115.40,382.00 134.30,382.40 134.60,392.40 117.40,392.40 116.80,384.20 87.50,383.90" fill="#1b77b6"/>
<text x="90" y="393.0" font-family="Liberation Sans, sans-serif" font-size="3.4" fill="#4a1008">FTO/TiO2/PVK</text>
<text x="97" y="379" font-family="Liberation Sans, sans-serif" font-size="2.6" fill="#0a2a4a">PEDOT:PSS film</text>
<path d="M81.1,381V369.9H76.2M127.6,380.3V371.2H130.6" fill="none" stroke="#555" stroke-width="0.7"/>
<rect x="74.8" y="369.2" width="2.4" height="1.6" fill="#29b6d6"/>
<rect x="130.0" y="370.0" width="2.4" height="1.6" fill="#29b6d6"/>
<text x="52.0" y="379.4" font-family="Liberation Sans, sans-serif" font-size="2.9" fill="#333">Spiro-OMeTAD</text>
<text x="49.7" y="387.0" font-family="Liberation Sans, sans-serif" font-size="2.9" fill="#333">Mesoporous TiO2</text>
<text x="51.5" y="391.7" font-family="Liberation Sans, sans-serif" font-size="2.9" fill="#333">Compact TiO2</text>
<path d="M67,380.2L79.5,385M67,387.6L78.5,392M67,391.4L77.5,395" stroke="#444" stroke-width="0.4"/>
<path d="M43.30,426.32L44.33,427.86L45.37,426.86L46.40,427.19L47.44,427.15L48.47,427.07L49.51,427.68L50.54,427.08L51.58,427.29L52.61,425.89L53.65,426.92L54.68,427.12L55.72,427.09L56.75,427.22L57.79,427.35L58.82,427.13L59.86,426.84L60.89,427.08L61.92,426.68L62.96,427.07L63.99,426.99L65.03,426.48L66.06,426.82L67.10,427.17L68.13,427.06L69.17,426.82L70.20,426.35L71.24,427.09L72.27,427.08L73.31,426.66L74.34,427.30L75.38,427.10L76.41,426.70L77.45,426.81L78.48,426.97L79.51,426.78L80.55,427.95L81.58,426.66L82.62,427.32L83.65,427.56L84.69,427.00L85.72,427.00L86.76,427.00L87.79,427.00L88.83,427.00L89.86,427.00L90.90,427.00L91.93,426.87L92.97,426.20L94.00,425.27L95.04,424.44L96.07,423.73L97.10,422.99L98.14,422.30L99.17,421.73L100.21,421.34L101.24,421.04L102.28,420.78L103.31,420.56L104.35,420.36L105.38,420.20L106.42,420.06L107.45,419.95L108.49,419.85L109.52,419.77L110.56,419.69L111.59,419.63L112.63,419.57L113.66,419.50L114.69,419.44L115.73,419.37L116.76,419.30L117.80,419.21L118.83,419.12L119.87,419.02L120.90,418.92L121.94,418.82L122.97,418.70L124.01,418.57L125.04,418.43L126.08,418.27L127.11,418.08L128.15,417.83L129.18,417.49L130.22,417.08L131.25,416.62L132.28,416.12L133.32,415.60L134.35,415.07L135.39,414.50L136.42,413.88L137.46,413.23L138.49,412.53L139.53,411.80L140.56,411.03L141.60,410.25L142.63,409.44L143.67,408.61L144.70,407.74L145.74,406.83L146.77,405.88L147.81,404.89L148.84,403.85L149.87,402.76L150.91,401.62L151.94,400.41L152.98,399.08L154.01,397.67L155.05,396.18L156.08,394.66L157.12,393.12L158.15,391.59L159.19,390.08L160.22,388.59L161.26,387.04L162.29,385.47L163.33,383.90L164.36,382.33L165.39,380.81L166.43,379.33L167.46,377.94L168.50,376.64L169.53,375.41L170.57,374.21L171.60,373.06L172.64,371.94L173.67,370.85L174.71,369.79L175.74,368.76L176.78,367.76L177.81,366.79L178.85,365.84L179.88,364.91L180.92,364.00L181.95,363.10L182.98,362.21L184.02,361.34L185.05,360.50L186.09,359.67L187.12,358.87L188.16,358.10L189.19,357.36L190.23,356.66L191.26,356.00L192.30,355.37L193.33,354.77L194.37,354.19L195.40,353.64L196.44,353.10L197.47,352.58L198.51,352.08L199.54,351.60L200.57,351.13L201.61,350.68L202.64,350.24L203.68,349.82L204.71,349.41L205.75,349.02L206.78,348.64L207.82,348.29L208.85,347.95L209.89,347.62L210.92,347.29L211.96,346.98L212.99,346.67L214.03,346.36L215.06,346.04L216.10,345.73L217.13,345.40L218.16,345.06L219.20,344.71L220.23,344.35L221.27,343.98L222.30,343.62L223.34,343.25L224.37,342.88L225.41,342.51L226.44,342.13L227.48,341.75L228.51,341.35L229.55,340.95L230.58,340.52L231.62,340.09L232.65,339.63L233.69,339.15L234.72,338.65L235.75,338.13L236.79,337.60L237.82,337.06L238.86,336.50L239.89,335.88L240.93,335.21L241.96,334.46L243.00,333.61L244.03,332.64L245.07,331.49L246.10,329.88L247.14,327.87L248.17,325.55L249.21,323.01L250.24,320.36L251.28,317.63L252.31,314.38L253.34,310.77L254.38,307.14L255.41,303.80L256.45,300.94L257.48,298.10L258.52,295.43L259.55,293.13L260.59,291.42L261.62,290.31L262.66,289.39L263.69,288.62L264.73,287.98L265.76,287.45L266.80,287.01L267.83,286.62L268.87,286.31L269.90,286.11" fill="none" stroke="#111" stroke-width="1.6" stroke-linejoin="round"/>
<path d="M43.30,427.34L44.33,427.55L45.37,427.10L46.40,426.82L47.44,426.52L48.47,426.95L49.51,427.23L50.54,427.33L51.58,426.69L52.61,426.32L53.65,426.89L54.68,427.52L55.72,427.40L56.75,426.33L57.79,426.92L58.82,427.72L59.86,427.04L60.89,427.49L61.92,427.26L62.96,427.20L63.99,427.30L65.03,426.77L66.06,427.03L67.10,427.25L68.13,426.83L69.17,426.65L70.20,427.69L71.24,427.11L72.27,427.41L73.31,427.07L74.34,427.54L75.38,426.99L76.41,427.02L77.45,427.13L78.48,427.44L79.51,427.17L80.55,427.46L81.58,427.57L82.62,426.91L83.65,427.46L84.69,427.00L85.72,427.00L86.76,427.00L87.79,427.00L88.83,427.00L89.86,427.00L90.90,427.00L91.93,427.00L92.97,427.00L94.00,427.00L95.04,427.00L96.07,427.00L97.10,427.00L98.14,427.00L99.17,427.00L100.21,427.00L101.24,427.00L102.28,427.00L103.31,427.00L104.35,427.00L105.38,427.00L106.42,427.00L107.45,427.00L108.49,427.00L109.52,427.00L110.56,427.00L111.59,427.00L112.63,427.00L113.66,427.00L114.69,427.00L115.73,427.00L116.76,427.00L117.80,427.00L118.83,427.00L119.87,427.00L120.90,427.00L121.94,427.00L122.97,427.00L124.01,427.00L125.04,427.00L126.08,427.00L127.11,427.00L128.15,427.00L129.18,427.00L130.22,427.00L131.25,427.00L132.28,427.00L133.32,427.00L134.35,426.92L135.39,426.75L136.42,426.52L137.46,426.25L138.49,425.95L139.53,425.65L140.56,425.37L141.60,425.11L142.63,424.86L143.67,424.60L144.70,424.33L145.74,424.05L146.77,423.76L147.81,423.45L148.84,423.11L149.87,422.75L150.91,422.36L151.94,421.92L152.98,421.40L154.01,420.83L155.05,420.19L156.08,419.52L157.12,418.81L158.15,418.08L159.19,417.33L160.22,416.55L161.26,415.71L162.29,414.82L163.33,413.88L164.36,412.91L165.39,411.93L166.43,410.94L167.46,409.95L168.50,408.98L169.53,408.05L170.57,407.15L171.60,406.27L172.64,405.40L173.67,404.54L174.71,403.69L175.74,402.84L176.78,402.00L177.81,401.16L178.85,400.33L179.88,399.49L180.92,398.65L181.95,397.82L182.98,396.98L184.02,396.12L185.05,395.25L186.09,394.38L187.12,393.50L188.16,392.62L189.19,391.74L190.23,390.88L191.26,390.02L192.30,389.19L193.33,388.37L194.37,387.57L195.40,386.81L196.44,386.07L197.47,385.37L198.51,384.70L199.54,384.05L200.57,383.42L201.61,382.80L202.64,382.19L203.68,381.60L204.71,381.02L205.75,380.46L206.78,379.90L207.82,379.35L208.85,378.80L209.89,378.27L210.92,377.73L211.96,377.20L212.99,376.67L214.03,376.15L215.06,375.62L216.10,375.09L217.13,374.58L218.16,374.08L219.20,373.59L220.23,373.11L221.27,372.64L222.30,372.17L223.34,371.71L224.37,371.25L225.41,370.79L226.44,370.33L227.48,369.86L228.51,369.39L229.55,368.91L230.58,368.42L231.62,367.91L232.65,367.39L233.69,366.86L234.72,366.31L235.75,365.73L236.79,365.18L237.82,364.65L238.86,364.10L239.89,363.53L240.93,362.91L241.96,362.21L243.00,361.42L244.03,360.51L245.07,359.43L246.10,357.99L247.14,356.20L248.17,354.10L249.21,351.74L250.24,349.14L251.28,346.28L252.31,342.53L253.34,338.09L254.38,333.40L255.41,328.88L256.45,324.75L257.48,320.53L258.52,316.38L259.55,312.57L260.59,309.36L261.62,306.79L262.66,304.50L263.69,302.45L264.73,300.64L265.76,299.07L266.80,297.73L267.83,296.54L268.87,295.54L269.90,294.75" fill="none" stroke="#ff1a1a" stroke-width="1.6" stroke-linejoin="round"/>
<rect x="43.3" y="273.3" width="226.6" height="168.0" fill="none" stroke="#111" stroke-width="1.8"/>
<path d="M43.3,427.00h3.5M43.3,413.05h2.2M43.3,399.10h3.5M43.3,385.15h2.2M43.3,371.20h3.5M43.3,357.25h2.2M43.3,343.30h3.5M43.3,329.35h2.2M43.3,315.40h3.5M43.3,301.45h2.2M43.3,287.50h3.5M65.96,441.3v-2.2M88.62,441.3v-3.5M111.28,441.3v-2.2M133.94,441.3v-3.5M156.60,441.3v-2.2M179.26,441.3v-3.5M201.92,441.3v-2.2M224.58,441.3v-3.5M247.24,441.3v-2.2" stroke="#111" stroke-width="1.3" fill="none"/>
<text x="39.6" y="430.70" class="san" font-weight="bold" font-size="10.5" fill="#111" text-anchor="end" stroke="#111" stroke-width="0.3">0</text>
<text x="39.6" y="402.80" class="san" font-weight="bold" font-size="10.5" fill="#111" text-anchor="end" stroke="#111" stroke-width="0.3">10</text>
<text x="39.6" y="374.90" class="san" font-weight="bold" font-size="10.5" fill="#111" text-anchor="end" stroke="#111" stroke-width="0.3">20</text>
<text x="39.6" y="347.00" class="san" font-weight="bold" font-size="10.5" fill="#111" text-anchor="end" stroke="#111" stroke-width="0.3">30</text>
<text x="39.6" y="319.10" class="san" font-weight="bold" font-size="10.5" fill="#111" text-anchor="end" stroke="#111" stroke-width="0.3">40</text>
<text x="39.6" y="291.20" class="san" font-weight="bold" font-size="10.5" fill="#111" text-anchor="end" stroke="#111" stroke-width="0.3">50</text>
<text x="43.30" y="453.8" class="san" font-weight="bold" font-size="10.5" fill="#111" text-anchor="middle" stroke="#111" stroke-width="0.3">300</text>
<text x="88.62" y="453.8" class="san" font-weight="bold" font-size="10.5" fill="#111" text-anchor="middle" stroke="#111" stroke-width="0.3">400</text>
<text x="133.94" y="453.8" class="san" font-weight="bold" font-size="10.5" fill="#111" text-anchor="middle" stroke="#111" stroke-width="0.3">500</text>
<text x="179.26" y="453.8" class="san" font-weight="bold" font-size="10.5" fill="#111" text-anchor="middle" stroke="#111" stroke-width="0.3">600</text>
<text x="224.58" y="453.8" class="san" font-weight="bold" font-size="10.5" fill="#111" text-anchor="middle" stroke="#111" stroke-width="0.3">700</text>
<text x="269.90" y="453.8" class="san" font-weight="bold" font-size="10.5" fill="#111" text-anchor="middle" stroke="#111" stroke-width="0.3">800</text>
<text x="160.7" y="476.5" class="san" font-weight="bold" font-size="12.3" fill="#111" text-anchor="middle" stroke="#111" stroke-width="0.3">Wavelength (nm)</text>
<text transform="translate(19.2,366.4) rotate(-90)" class="san" font-weight="bold" font-size="12.6" fill="#111" text-anchor="middle" stroke="#111" stroke-width="0.3">Transmittance (%)</text>
<path d="M114,287.5H138.2" stroke="#ff1a1a" stroke-width="1.7"/>
<path d="M114,305.6H138.2" stroke="#111" stroke-width="1.7"/>
<text x="143.1" y="291.1" class="ser" font-weight="bold" font-size="14.45" fill="#111" stroke="#111" stroke-width="0.12">A (AVT = 7.3%)</text>
<text x="143.1" y="309.3" class="ser" font-weight="bold" font-size="14.45" fill="#111" stroke="#111" stroke-width="0.12">B (AVT = 14.8%)</text>
<path d="M310.4,455.1V271.9H538.4V455.1" fill="none" stroke="#333" stroke-width="1.5"/>
<path d="M307.4,455.1H538.4" fill="none" stroke="#333" stroke-width="1.5"/>
<path d="M307.4,455.10h3M307.4,428.93h3M307.4,402.76h3M307.4,376.59h3M307.4,350.42h3M307.4,324.25h3M307.4,298.08h3M307.4,271.91h3M310.40,455.1v3.6M333.20,455.1v3.6M356.00,455.1v3.6M378.80,455.1v3.6M401.60,455.1v3.6M424.40,455.1v3.6M447.20,455.1v3.6M470.00,455.1v3.6M492.80,455.1v3.6M515.60,455.1v3.6M538.40,455.1v3.6" stroke="#333" stroke-width="1.4" fill="none"/>
<text x="304.2" y="458.00" class="san" font-weight="bold" font-size="10.2" fill="#222" text-anchor="end" stroke="#222" stroke-width="0.3">0</text>
<text x="304.2" y="431.83" class="san" font-weight="bold" font-size="10.2" fill="#222" text-anchor="end" stroke="#222" stroke-width="0.3">10</text>
<text x="304.2" y="405.66" class="san" font-weight="bold" font-size="10.2" fill="#222" text-anchor="end" stroke="#222" stroke-width="0.3">20</text>
<text x="304.2" y="379.49" class="san" font-weight="bold" font-size="10.2" fill="#222" text-anchor="end" stroke="#222" stroke-width="0.3">30</text>
<text x="304.2" y="353.32" class="san" font-weight="bold" font-size="10.2" fill="#222" text-anchor="end" stroke="#222" stroke-width="0.3">40</text>
<text x="304.2" y="327.15" class="san" font-weight="bold" font-size="10.2" fill="#222" text-anchor="end" stroke="#222" stroke-width="0.3">50</text>
<text x="304.2" y="300.98" class="san" font-weight="bold" font-size="10.2" fill="#222" text-anchor="end" stroke="#222" stroke-width="0.3">60</text>
<text x="304.2" y="274.81" class="san" font-weight="bold" font-size="10.2" fill="#222" text-anchor="end" stroke="#222" stroke-width="0.3">70</text>
<text x="310.40" y="469.3" class="san" font-weight="bold" font-size="10.2" fill="#222" text-anchor="middle" stroke="#222" stroke-width="0.3">0</text>
<text x="333.20" y="469.3" class="san" font-weight="bold" font-size="10.2" fill="#222" text-anchor="middle" stroke="#222" stroke-width="0.3">2</text>
<text x="356.00" y="469.3" class="san" font-weight="bold" font-size="10.2" fill="#222" text-anchor="middle" stroke="#222" stroke-width="0.3">4</text>
<text x="378.80" y="469.3" class="san" font-weight="bold" font-size="10.2" fill="#222" text-anchor="middle" stroke="#222" stroke-width="0.3">6</text>
<text x="401.60" y="469.3" class="san" font-weight="bold" font-size="10.2" fill="#222" text-anchor="middle" stroke="#222" stroke-width="0.3">8</text>
<text x="424.40" y="469.3" class="san" font-weight="bold" font-size="10.2" fill="#222" text-anchor="middle" stroke="#222" stroke-width="0.3">10</text>
<text x="447.20" y="469.3" class="san" font-weight="bold" font-size="10.2" fill="#222" text-anchor="middle" stroke="#222" stroke-width="0.3">12</text>
<text x="470.00" y="469.3" class="san" font-weight="bold" font-size="10.2" fill="#222" text-anchor="middle" stroke="#222" stroke-width="0.3">14</text>
<text x="492.80" y="469.3" class="san" font-weight="bold" font-size="10.2" fill="#222" text-anchor="middle" stroke="#222" stroke-width="0.3">16</text>
<text x="515.60" y="469.3" class="san" font-weight="bold" font-size="10.2" fill="#222" text-anchor="middle" stroke="#222" stroke-width="0.3">18</text>
<text x="538.40" y="469.3" class="san" font-weight="bold" font-size="10.2" fill="#222" text-anchor="middle" stroke="#222" stroke-width="0.3">20</text>
<text x="422.6" y="482.5" class="san" font-weight="bold" font-size="11.4" fill="#222" text-anchor="middle" stroke="#222" stroke-width="0.3">PCE (%)</text>
<text transform="translate(286.4,363) rotate(-90)" class="san" font-weight="bold" font-size="11.8" fill="#222" text-anchor="middle" stroke="#222" stroke-width="0.3">AVT (%)</text>
<path d="M402.74,356.00L406.84,360.10L402.74,364.20L398.64,360.10Z" fill="#129c78"/>
<path d="M405.02,362.02L409.12,366.12L405.02,370.22L400.92,366.12Z" fill="#129c78"/>
<path d="M426.68,376.15L430.78,380.25L426.68,384.35L422.58,380.25Z" fill="#129c78"/>
<path d="M430.10,312.56L434.20,316.66L430.10,320.76L426.00,316.66Z" fill="#129c78"/>
<path d="M466.58,419.60L470.68,423.70L466.58,427.80L462.48,423.70Z" fill="#129c78"/>
<path d="M514.46,393.95L518.56,398.05L514.46,402.15L510.36,398.05Z" fill="#129c78"/>
<circle cx="407.30" cy="380.78" r="3.45" fill="#fb6a1c"/>
<circle cx="403.88" cy="386.01" r="3.45" fill="#fb6a1c"/>
<circle cx="422.12" cy="394.65" r="3.45" fill="#fb6a1c"/>
<circle cx="433.52" cy="377.90" r="3.45" fill="#fb6a1c"/>
<circle cx="432.95" cy="388.37" r="3.45" fill="#fb6a1c"/>
<circle cx="464.30" cy="436.52" r="3.45" fill="#fb6a1c"/>
<circle cx="485.96" cy="423.17" r="3.45" fill="#fb6a1c"/>
<path d="M353.72,309.46L357.33,315.73L350.11,315.73Z" fill="#7b6fc4"/>
<path d="M349.16,346.10L352.77,352.37L345.55,352.37Z" fill="#7b6fc4"/>
<polygon points="333.20,316.75 334.28,319.36 337.10,319.58 334.95,321.42 335.61,324.16 333.20,322.69 330.79,324.16 331.45,321.42 329.30,319.58 332.12,319.36" fill="#ff35a8"/>
<polygon points="452.90,370.92 453.98,373.53 456.80,373.75 454.65,375.59 455.31,378.34 452.90,376.86 450.49,378.34 451.15,375.59 449.00,373.75 451.82,373.53" fill="#ff35a8"/>
<polygon points="425.54,431.90 426.62,434.50 429.44,434.73 427.29,436.57 427.95,439.31 425.54,437.84 423.13,439.31 423.79,436.57 421.64,434.73 424.46,434.50" fill="#ff35a8"/>
<path d="M323.90,408.90L327.30,412.30L323.90,415.70L320.50,412.30Z" fill="#129c78"/>
<circle cx="323.90" cy="423.20" r="3.10" fill="#fb6a1c"/>
<path d="M323.90,431.00L327.32,436.94L320.48,436.94Z" fill="#7b6fc4"/>
<polygon points="323.90,441.00 324.83,443.23 327.23,443.42 325.40,444.99 325.96,447.33 323.90,446.07 321.84,447.33 322.40,444.99 320.57,443.42 322.97,443.23" fill="#ff35a8"/>
<text x="336.2" y="415.0" class="san" font-weight="bold" font-size="8.8" fill="#222" stroke="#222" stroke-width="0.3">TCO</text>
<text x="336.2" y="425.7" class="san" font-weight="bold" font-size="8.8" fill="#222" stroke="#222" stroke-width="0.3">Metal</text>
<text x="336.2" y="436.3" class="san" font-weight="bold" font-size="8.8" fill="#222" stroke="#222" stroke-width="0.3">Carbon</text>
<text x="336.2" y="447.5" class="san" font-weight="bold" font-size="8.8" fill="#222" stroke="#222" stroke-width="0.3">PEDOT:PSS</text>
</svg></body></html>
